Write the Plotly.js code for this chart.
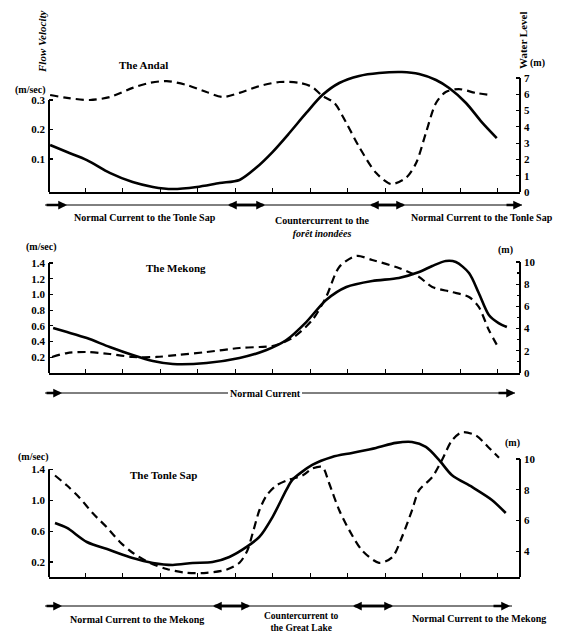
<!DOCTYPE html>
<html>
<head>
<meta charset="utf-8">
<script src="https://cdn.plot.ly/plotly-3.0.1.min.js"></script>
<style>html,body{margin:0;padding:0;background:#fff;}#chart{width:570px;height:632px;}</style>
</head>
<body>
<div id="chart"></div>
<script>
// ---- Data (x = month position along the year, 0..12) ----
// The Andal
var andalVelX = [0.07,0.52,1.13,1.66,2.27,2.73,3.18,3.71,4.24,4.67,5.12,5.65,6.18,6.72,7.06,7.33,7.65,7.97,8.31,8.76,9.16,9.56,9.83,10.09,10.36,10.62,10.97,11.42,11.82];
var andalVel  = [0.317,0.307,0.300,0.310,0.341,0.358,0.364,0.351,0.327,0.310,0.324,0.347,0.361,0.358,0.344,0.314,0.290,0.222,0.141,0.053,0.015,0.036,0.086,0.188,0.290,0.327,0.337,0.324,0.317];
var andalLvlX = [0.07,0.52,1.05,1.66,2.27,2.81,3.34,3.98,4.59,5.12,5.57,6.0,6.45,6.90,7.33,7.78,8.31,8.84,9.45,9.91,10.36,10.71,11.16,11.58,11.98];
var andalLvl  = [2.88,2.45,1.96,1.17,0.61,0.31,0.18,0.31,0.55,0.74,1.50,2.45,3.62,4.85,5.95,6.69,7.12,7.30,7.36,7.24,6.87,6.38,5.46,4.29,3.31];
// The Mekong
var mekVelX = [0.12,0.52,1.05,1.66,2.27,2.91,3.44,4.24,5.12,5.65,6.0,6.53,7.06,7.43,7.78,8.23,8.66,9.37,9.91,10.26,10.78,11.24,11.50,11.77,12.03];
var mekVel  = [0.204,0.254,0.267,0.242,0.204,0.204,0.229,0.267,0.318,0.331,0.344,0.445,0.674,0.967,1.349,1.489,1.438,1.336,1.221,1.094,1.031,0.967,0.840,0.547,0.318];
var mekLvlX = [0.15,0.52,1.05,1.66,2.27,2.81,3.34,4.24,5.12,5.84,6.37,6.90,7.43,7.97,8.66,9.37,9.91,10.26,10.62,10.89,11.24,11.50,11.77,12.03,12.25];
var mekLvl  = [4.05,3.69,3.15,2.34,1.62,1.08,0.81,0.90,1.35,2.07,2.97,4.59,6.58,7.75,8.29,8.56,9.10,9.64,10.09,10.0,9.01,7.21,5.23,4.50,4.14];
// The Tonle Sap
var tsVelX = [0.2,0.52,0.86,1.21,1.58,1.93,2.27,2.73,3.18,3.71,4.24,4.77,5.12,5.33,5.47,5.65,5.84,6.10,6.40,6.80,7.06,7.33,7.51,7.78,8.05,8.39,8.84,9.19,9.45,9.72,9.91,10.26,10.52,10.78,11.05,11.42,11.77,12.04];
var tsVel  = [1.32,1.19,1.03,0.83,0.65,0.46,0.32,0.19,0.11,0.06,0.06,0.10,0.19,0.35,0.57,0.87,1.06,1.19,1.26,1.32,1.41,1.43,1.22,0.87,0.61,0.35,0.19,0.26,0.52,0.87,1.13,1.30,1.52,1.77,1.88,1.84,1.68,1.55];
var tsLvlX = [0.2,0.52,1.05,1.66,2.27,2.81,3.34,3.87,4.40,4.85,5.31,5.65,6.0,6.37,6.53,7.06,7.59,8.12,8.76,9.29,9.72,10.09,10.44,10.78,11.32,11.85,12.22];
var tsLvl  = [5.84,5.52,4.61,4.09,3.57,3.25,3.12,3.25,3.31,3.64,4.29,4.94,6.23,7.99,8.64,9.61,10.13,10.39,10.71,11.04,11.10,10.78,9.94,8.96,8.18,7.34,6.49];

// Tick labels
var monthTicks = [1,2,3,4,5,6,7,8,9,10,11,12];
var andalVelTicks = [0.1,0.2,0.3];
var andalVelText = ["0.1","0.2","0.3"];
var andalLvlTicks = [0,1,2,3,4,5,6,7];
var mekVelTicks = [0.2,0.4,0.6,0.8,1.0,1.2,1.4];
var mekVelText = ["0.2","0.4","0.6","0.8","1.0","1.2","1.4"];
var mekLvlTicks = [0,2,4,6,8,10];
var tsVelTicks = [0.2,0.6,1.0,1.4];
var tsVelText = ["0.2","0.6","1.0","1.4"];
var tsLvlTicks = [4,6,8,10];

var FONT = "Liberation Serif, DejaVu Serif, serif";
function P(x){return x/570;}
function Q(y){return 1-y/632;}

function vel(x,y,xa,ya){return {x:x,y:y,xaxis:xa,yaxis:ya,mode:'lines',line:{color:'#000',width:2.2,dash:'8px,5px',shape:'spline',smoothing:0.8},hoverinfo:'skip'};}
function lvl(x,y,xa,ya){return {x:x,y:y,xaxis:xa,yaxis:ya,mode:'lines',line:{color:'#000',width:2.6,shape:'spline',smoothing:0.8},hoverinfo:'skip'};}

var data = [
  vel(andalVelX,andalVel,'x','y'), lvl(andalLvlX,andalLvl,'x','y2'),
  vel(mekVelX,mekVel,'x2','y3'), lvl(mekLvlX,mekLvl,'x2','y4'),
  vel(tsVelX,tsVel,'x3','y5'), lvl(tsLvlX,tsLvl,'x3','y6')
];

var tf = {family:FONT,size:11,color:'#000',weight:'bold'};
function xax(anchor){return {domain:[P(49),P(520)],anchor:anchor,range:[0.04,12.6],showline:true,linewidth:2,linecolor:'#000',ticks:'inside',ticklen:4,tickwidth:1,tickcolor:'#000',tickvals:monthTicks,showticklabels:false,showgrid:false,zeroline:false,fixedrange:true};}
function yl(dom,anchor,range,tv,tt){return {domain:dom,anchor:anchor,range:range,tickvals:tv,ticktext:tt,ticks:'inside',ticklen:4,tickwidth:1.2,tickcolor:'#000',tickfont:tf,showline:false,showgrid:false,zeroline:false,ticklabelstandoff:3};}
function yr(ov,anchor,range,tv,minor){var o={overlaying:ov,side:'right',anchor:anchor,range:range,tickvals:tv,ticks:'inside',ticklen:4,tickwidth:1.2,tickcolor:'#000',tickfont:tf,showline:false,showgrid:false,zeroline:false,ticklabelstandoff:3};if(minor){o.minor={tickvals:minor,ticks:'inside',ticklen:3,tickcolor:'#000'};}return o;}

var layout = {
  width:570,height:632,margin:{l:0,r:0,t:0,b:0},paper_bgcolor:'#fff',plot_bgcolor:'rgba(0,0,0,0)',showlegend:false,
  font:{family:FONT,color:'#000'},
  xaxis:xax('y'), xaxis2:xax('y3'), xaxis3:xax('y5'),
  yaxis:yl([Q(192),Q(60)],'x',[-0.012,0.4356],andalVelTicks,andalVelText),
  yaxis2:yr('y','x',[0,8.1],andalLvlTicks),
  yaxis3:yl([Q(373),Q(250)],'x2',[0,1.565],mekVelTicks,mekVelText),
  yaxis4:yr('y3','x2',[0,11.08],mekLvlTicks,[1,3,5,7,9]),
  yaxis5:yl([Q(577),Q(425)],'x3',[0.006,1.974],tsVelTicks,tsVelText),
  yaxis6:yr('y5','x3',[2.34,12.2],tsLvlTicks),
  shapes:[],
  annotations:[]
};

// axis lines
function vline(xr,yr_,y0,y1,xv){layout.shapes.push({type:'line',xref:xr,yref:yr_,x0:xv,x1:xv,y0:y0,y1:y1,line:{color:'#000',width:2}});}
vline('x domain','y',-0.012,0.3,0); vline('x domain','y2',0,7,1);
vline('x2 domain','y3',0,1.4,0); vline('x2 domain','y4',0,10,1);
vline('x3 domain','y5',0.006,1.4,0); vline('x3 domain','y6',2.34,10,1);

// arrow rows
function hline(x0,x1,y,w){layout.shapes.push({type:'line',xref:'paper',yref:'paper',x0:P(x0),x1:P(x1),y0:Q(y),y1:Q(y),line:{color:'#000',width:w}});}
function arrow(xHead,xTail,y){layout.annotations.push({xref:'paper',yref:'paper',x:P(xHead),y:Q(y),ax:xTail-xHead,ay:0,text:'',showarrow:true,arrowhead:2,arrowsize:0.7,arrowwidth:2.5,arrowcolor:'#000'});}
// row 1
hline(45,522,205,1);
arrow(67,45,205); arrow(228,265,205); arrow(265,228,205); arrow(370,405,205); arrow(405,370,205); arrow(522,505,205);
// row 2
hline(45,228,393,1); hline(302,515,393,1);
arrow(62,45,393); arrow(515,497,393);
// row 3
hline(45,512,606,1);
arrow(62,45,606); arrow(213,250,606); arrow(250,213,606); arrow(353,393,606); arrow(393,353,606); arrow(510,492,606);

function txt(t,x,y,opt){var a={xref:'paper',yref:'paper',x:P(x),y:Q(y),text:t,showarrow:false,xanchor:'center',yanchor:'middle',font:{family:FONT,size:10,color:'#000',weight:'bold'}};if(opt){for(var k in opt){a[k]=opt[k];}}layout.annotations.push(a);}
// row texts
txt('Normal Current to the Tonle Sap',145,217);
txt('Countercurrent to the<br><i>forêt inondées</i>',322,227);
txt('Normal Current to the Tonle Sap',482,217);
txt('Normal Current',265,393);
txt('Normal Current to the Mekong',137,619);
txt('Countercurrent to<br>the Great Lake',301,609,{yanchor:'top',font:{family:FONT,size:9.5,color:'#000',weight:'bold'}});
txt('Normal Current to the Mekong',479,618);
// panel titles
txt('The Andal',143,65,{font:{family:FONT,size:11,color:'#000',weight:'bold'}});
txt('The Mekong',176,268,{font:{family:FONT,size:11,color:'#000',weight:'bold'}});
txt('The Tonle Sap',163,475,{font:{family:FONT,size:11,color:'#000',weight:'bold'}});
// unit labels
txt('(m/sec)',30,90);
txt('(m)',537,63);
txt('(m/sec)',41,247);
txt('(m)',505,250);
txt('(m/sec)',33,457);
txt('(m)',512,443);
// axis names (rotated)
txt('<i>Flow Velocity</i>',42,41,{textangle:-90,font:{family:FONT,size:11,color:'#000',weight:'bold'}});
txt('Water Level',523,40,{textangle:-90,font:{family:FONT,size:11,color:'#000',weight:'bold'}});

Plotly.newPlot('chart',data,layout,{staticPlot:true,displayModeBar:false});
</script>
</body>
</html>
